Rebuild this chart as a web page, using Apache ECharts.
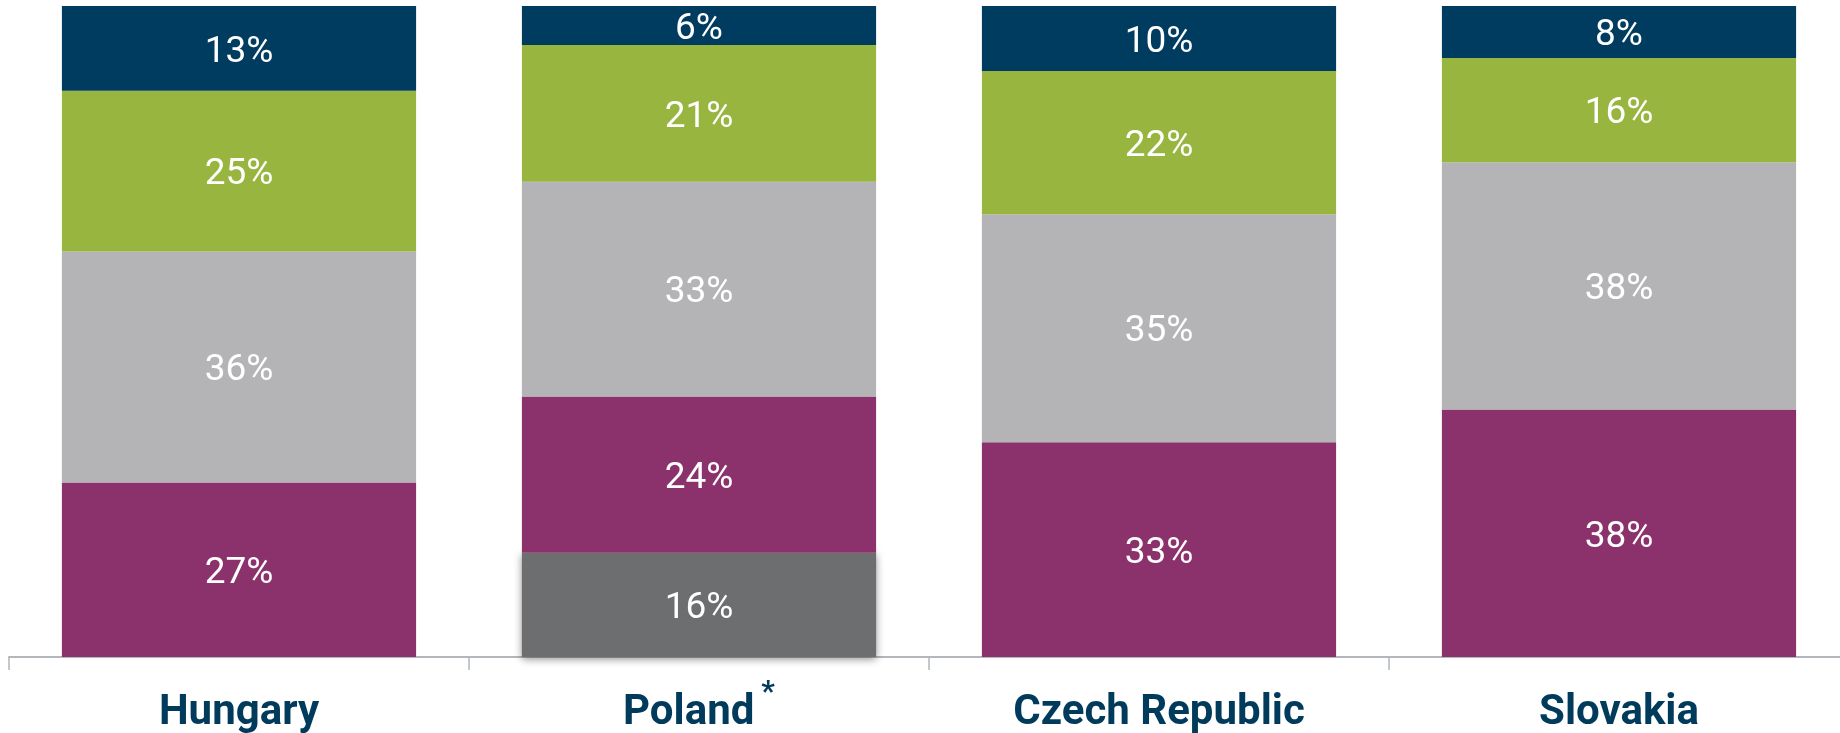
<!DOCTYPE html>
<html>
<head>
<meta charset="utf-8">
<script src="https://cdn.jsdelivr.net/npm/echarts@6/dist/echarts.min.js"></script>
<style>
  html, body { margin: 0; padding: 0; background: #ffffff; }
  #main-chart { width: 1840px; height: 733px; }
</style>
</head>
<body>
<div id="main-chart"></div>
<script>
  // categories
  var countries = ['Hungary', 'Poland', 'Czech Republic', 'Slovakia'];

  // stacked shares (%), bottom to top
  var darkGrayValues = [null, 16, null, null];
  var purpleValues = [26.8, 24, 33, 38];
  var lightGrayValues = [35.5, 33, 35, 38];
  var greenValues = [24.7, 21, 22, 16];
  var navyValues = [13, 6, 10, 8];

  var chartDom = document.getElementById('main-chart');
  var chart = echarts.init(chartDom);

  function labelStyle() {
    return {
      show: true,
      position: 'inside',
      offset: [0, 4],
      color: '#ffffff',
      fontFamily: 'Roboto',
      fontSize: 37,
      formatter: function (p) {
        return Math.round(p.value) + '%';
      }
    };
  }

  function makeSeries(name, values, color, extra) {
    var s = {
      name: name,
      type: 'bar',
      stack: 'total',
      barWidth: '77%',
      data: values,
      itemStyle: { color: color },
      label: labelStyle(),
      animation: false
    };
    if (extra) {
      for (var k in extra) { s.itemStyle[k] = extra[k]; }
    }
    return s;
  }

  var option = {
    grid: {
      left: 9,
      width: 1840,
      top: 6,
      bottom: 76,
      outerBoundsMode: 'none',
      containLabel: false
    },
    xAxis: {
      type: 'category',
      data: countries,
      axisLine: { lineStyle: { color: '#b3b6ba', width: 2 } },
      axisTick: { show: true, length: 13, lineStyle: { color: '#b3b6ba', width: 1.5 } },
      axisLabel: {
        margin: 21,
        interval: 0,
        formatter: function (v) {
          if (v === 'Poland') return '{a|' + v + '}{b|*}';
          return '{a|' + v + '}';
        },
        rich: {
          a: { fontFamily: 'Roboto', fontWeight: 'bold', fontSize: 42, lineHeight: 70, color: '#003b5c' },
          b: { fontFamily: 'Roboto', fontWeight: 'bold', fontSize: 30, color: '#003b5c', padding: [0, 0, 40, 7] }
        }
      }
    },
    yAxis: {
      type: 'value',
      show: false,
      min: 0,
      max: 100
    },
    series: [
      makeSeries('dark', darkGrayValues, '#6d6e70', {
        shadowBlur: 8, shadowColor: 'rgba(0,0,0,0.45)', shadowOffsetY: 2
      }),
      makeSeries('purple', purpleValues, '#8b326d'),
      makeSeries('lightgray', lightGrayValues, '#b4b4b6'),
      makeSeries('green', greenValues, '#98b53f'),
      makeSeries('navy', navyValues, '#003c5f')
    ]
  };

  chart.setOption(option, true);
</script>
</body>
</html>
